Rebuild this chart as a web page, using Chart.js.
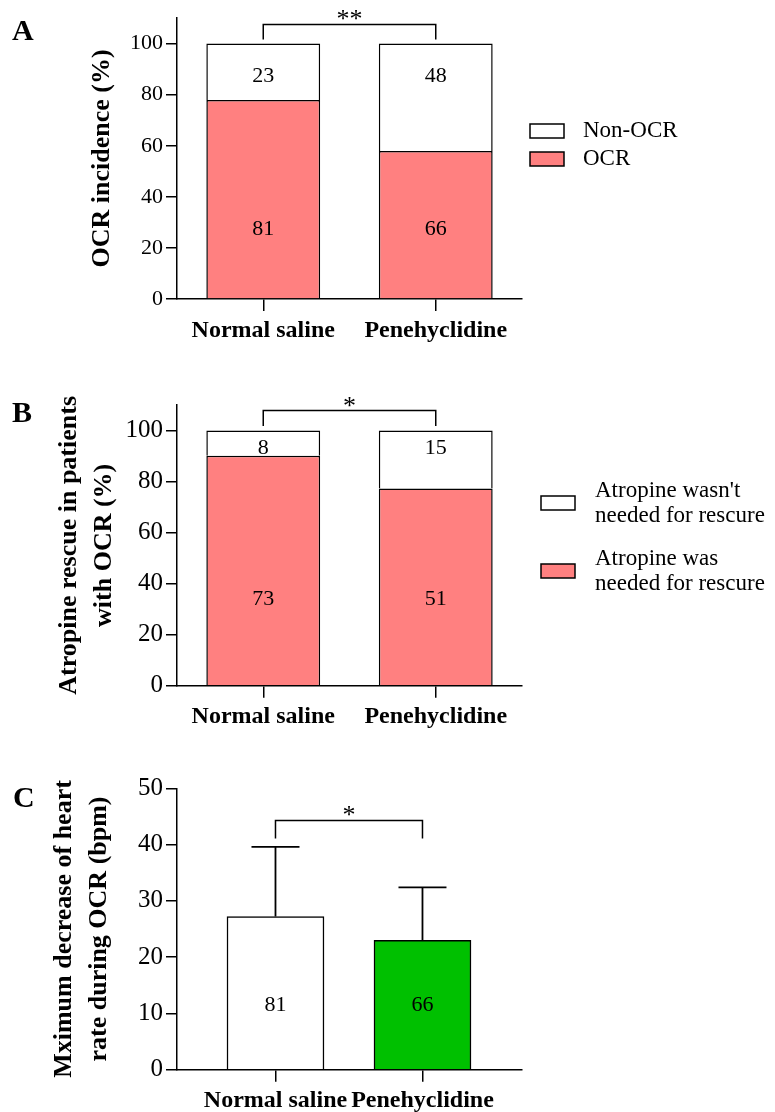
<!DOCTYPE html>
<html>
<head>
<meta charset="utf-8">
<script src="https://cdn.jsdelivr.net/npm/chart.js@4/dist/chart.umd.min.js"></script>
<style>
html, body { margin: 0; padding: 0; background: #fff; overflow: hidden; }
#wrap { position: relative; width: 775px; height: 1112px; }
canvas { position: absolute; left: 0; }
</style>
</head>
<body>
<div id="wrap">
  <canvas id="chartA" width="775" height="370" style="top:0px"></canvas>
  <canvas id="chartB" width="775" height="370" style="top:370px"></canvas>
  <canvas id="chartC" width="775" height="372" style="top:740px"></canvas>
</div>
<script>
const groups = ['Normal saline', 'Penehyclidine'];

// panel A: OCR incidence (%)
const ocrPct = [77.9, 57.9];
const nonOcrPct = [22.1, 42.1];
const ocrN = [81, 66];
const nonOcrN = [23, 48];

// panel B: atropine rescue in patients with OCR (%)
const rescuePct = [90.1, 77.3];
const noRescuePct = [9.9, 22.7];
const rescueN = [73, 51];
const noRescueN = [8, 15];

// panel C: max decrease of heart rate (bpm), mean and SD
const hrDropMean = [27.2, 23.0];
const hrDropSD = [12.4, 9.4];
const hrN = [81, 66];

const SERIF = "'Liberation Serif', 'Times New Roman', serif";
const PINK = '#ff8080';
const GREEN = '#00c000';

// letters, counts, brackets, error bars and legend
const deco = {
  id: 'deco',
  afterDatasetsDraw(chart, args, o) {
    const ctx = chart.ctx;
    const xs = chart.scales.x, ys = chart.scales.y;
    ctx.save();
    ctx.fillStyle = '#000';
    ctx.strokeStyle = '#000';

    ctx.font = 'bold 30px ' + SERIF;
    ctx.textAlign = 'left';
    ctx.textBaseline = 'alphabetic';
    ctx.fillText(o.letter, o.letterX, o.letterY);

    ctx.font = '22px ' + SERIF;
    ctx.textAlign = 'center';
    ctx.textBaseline = 'middle';
    o.counts.forEach(c => c.n.forEach((n, i) => {
      ctx.fillText(String(n), xs.getPixelForValue(i), ys.getPixelForValue(c.at) + 2);
    }));

    if (o.err) {
      ctx.lineWidth = 1.8;
      o.err.mean.forEach((m, i) => {
        const x = xs.getPixelForValue(i);
        const y0 = ys.getPixelForValue(m);
        const y1 = ys.getPixelForValue(m + o.err.sd[i]);
        ctx.beginPath();
        ctx.moveTo(x, y0); ctx.lineTo(x, y1);
        ctx.moveTo(x - 24, y1); ctx.lineTo(x + 24, y1);
        ctx.stroke();
      });
    }

    const b = o.bracket;
    const xa = xs.getPixelForValue(0), xb = xs.getPixelForValue(1);
    const yt = ys.getPixelForValue(b.top), yl = ys.getPixelForValue(b.leg);
    ctx.lineWidth = 1.5;
    ctx.beginPath();
    ctx.moveTo(xa, yl); ctx.lineTo(xa, yt); ctx.lineTo(xb, yt); ctx.lineTo(xb, yl);
    ctx.stroke();
    ctx.font = '26px ' + SERIF;
    ctx.textBaseline = 'alphabetic';
    ctx.fillText(b.sig, (xa + xb) / 2, yt + 3);

    if (o.legend) {
      const lg = o.legend;
      ctx.font = '23px ' + SERIF;
      ctx.textAlign = 'left';
      ctx.textBaseline = 'middle';
      lg.order.forEach((di, k) => {
        const ds = chart.data.datasets[di];
        const cy = lg.y + k * lg.gap;
        ctx.fillStyle = ds.backgroundColor;
        ctx.fillRect(lg.x, cy - 7, 34, 14);
        ctx.lineWidth = 1.5;
        ctx.strokeRect(lg.x, cy - 7, 34, 14);
        ctx.fillStyle = '#000';
        const lines = ds.label.split('\n');
        lines.forEach((t, j) => ctx.fillText(t, lg.textX, cy + (j - (lines.length - 1) / 2) * 25));
      });
    }
    ctx.restore();
  }
};

function yScale(opt) {
  return {
    stacked: opt.stacked,
    min: 0, max: opt.max,
    afterFit: s => { s.width = 177; },
    ticks: { stepSize: opt.step, includeBounds: false, color: '#000', padding: 3,
             font: { family: SERIF, size: opt.tickSize } },
    grid: { drawOnChartArea: false, drawTicks: true, tickLength: 11, color: '#000', lineWidth: 1.5 },
    border: { display: true, color: '#000', width: 1.5 },
    title: { display: true, text: opt.title, color: '#000', padding: { top: opt.titlePad },
             font: { family: SERIF, size: 26, weight: 'bold', lineHeight: 1.35 } }
  };
}

function xTicks() {
  return { color: '#000', padding: 5, autoSkip: false, maxRotation: 0,
           font: { family: SERIF, size: 24, weight: 'bold' } };
}
const xGrid = { offset: false, drawOnChartArea: false, tickLength: 12, color: '#000', lineWidth: 1.5 };
const xBorder = { display: true, color: '#000', width: 1.5 };

function stackedChart(id, cfg) {
  return new Chart(document.getElementById(id), {
    type: 'bar',
    data: {
      labels: groups,
      datasets: [
        { label: cfg.lowLabel, data: cfg.low, backgroundColor: PINK, borderColor: '#000',
          borderWidth: 1.5, borderSkipped: 'start', barPercentage: 0.66, categoryPercentage: 1 },
        { label: cfg.highLabel, data: cfg.high, backgroundColor: '#ffffff', borderColor: '#000',
          borderWidth: 1.5, borderSkipped: 'start', barPercentage: 0.66, categoryPercentage: 1 }
      ]
    },
    options: {
      responsive: false,
      animation: false,
      layout: { padding: { top: cfg.top, right: 253, left: 0, bottom: 0 } },
      scales: {
        x: { stacked: true, afterFit: s => { s.height = cfg.xh; },
             ticks: xTicks(), grid: xGrid, border: xBorder },
        y: yScale({ stacked: true, max: 110, step: 20, tickSize: cfg.tickSize,
                    title: cfg.title, titlePad: cfg.titlePad })
      },
      plugins: {
        legend: { display: false },
        tooltip: { enabled: false },
        deco: cfg.deco
      }
    },
    plugins: [deco]
  });
}

stackedChart('chartA', {
  low: ocrPct, high: nonOcrPct, lowLabel: 'OCR', highLabel: 'Non-OCR',
  top: 18, xh: 71, tickSize: 22, title: 'OCR incidence (%)', titlePad: 85,
  deco: {
    letter: 'A', letterX: 12, letterY: 40,
    counts: [{ n: ocrN, at: 28 }, { n: nonOcrN, at: 88 }],
    bracket: { top: 107.5, leg: 101.6, sig: '**' },
    legend: { order: [1, 0], x: 530, y: 131, gap: 28, textX: 583 }
  }
});

stackedChart('chartB', {
  low: rescuePct, high: noRescuePct,
  lowLabel: 'Atropine was\nneeded for rescure', highLabel: "Atropine wasn't\nneeded for rescure",
  top: 35, xh: 54.3, tickSize: 25, title: ['Atropine rescue in patients', 'with OCR (%)'], titlePad: 52,
  deco: {
    letter: 'B', letterX: 12, letterY: 52,
    counts: [{ n: rescueN, at: 34.5 }, { n: noRescueN, at: 94 }],
    bracket: { top: 107.8, leg: 101.8, sig: '*' },
    legend: { order: [1, 0], x: 541, y: 133, gap: 68, textX: 595 }
  }
});

new Chart(document.getElementById('chartC'), {
  type: 'bar',
  data: {
    datasets: [{
      label: 'Max decrease of heart rate',
      data: hrDropMean.map((m, i) => ({ x: i, y: m })),
      backgroundColor: ['#ffffff', GREEN], borderColor: '#000', borderWidth: 1.5,
      borderSkipped: 'start', barThickness: 97
    }]
  },
  options: {
    responsive: false,
    animation: false,
    layout: { padding: { top: 48.3, right: 253, left: 0, bottom: 0 } },
    scales: {
      x: {
        type: 'linear', offset: false, min: -0.67, max: 1.677,
        afterBuildTicks: s => { s.ticks = [{ value: 0 }, { value: 1 }]; },
        afterFit: s => { s.height = 42.3; },
        ticks: Object.assign(xTicks(), { callback: v => groups[v] }),
        grid: xGrid, border: xBorder
      },
      y: yScale({ stacked: false, max: 50, step: 10, tickSize: 25,
                  title: ['Mximum decrease of heart', 'rate during OCR (bpm)'], titlePad: 47 })
    },
    plugins: {
      legend: { display: false },
      tooltip: { enabled: false },
      deco: {
        letter: 'C', letterX: 13, letterY: 67,
        counts: [{ n: hrN, at: 11.8 }],
        err: { mean: hrDropMean, sd: hrDropSD },
        bracket: { top: 44.3, leg: 41.1, sig: '*' }
      }
    }
  },
  plugins: [deco]
});
</script>
</body>
</html>
